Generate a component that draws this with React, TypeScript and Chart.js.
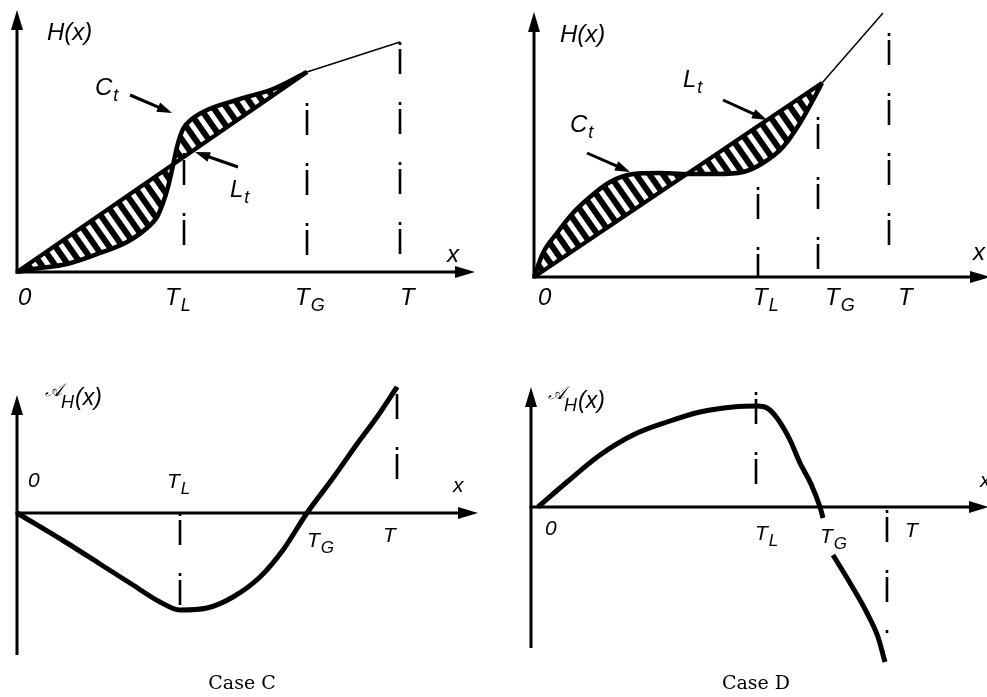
import React, { useEffect, useRef } from 'react';
import { Chart, registerables } from 'chart.js';
Chart.register(...registerables);

// ---------- Case C : H(x) ----------
const cH_TL = 16.7;
const cH_TG = 29.0;
const cH_T = 38.3;
const cH_Ct_x = [0, 1.6, 5.0, 8.3, 11.0, 13.0, 14.0, 14.6, 15.1, 15.5, 16.0, 16.6, 17.5, 19.0, 22.3, 25.6, 29.0];
const cH_Ct_y = [0, 0.3, 0.8, 1.9, 3.0, 4.4, 5.5, 6.9, 8.5, 10.2, 12.5, 14.3, 15.3, 16.2, 17.3, 18.3, 20.0];
const cH_Lt_x = [0, 29.0];
const cH_Lt_y = [0, 20.0];
const cH_tail_x = [29.0, 38.3];
const cH_tail_y = [20.0, 23.0];
const cH_guide_top = [11.9, 16.9, 23.0];
const cH_guide_bot = [0, 1.5, 0];

// ---------- Case D : H(x) ----------
const dH_TL = 22.4;
const dH_TG = 28.4;
const dH_T = 35.5;
const dH_Ct_x = [0, 0.9, 2.3, 3.9, 5.6, 7.6, 9.9, 12.6, 15.3, 18.3, 20.9, 22.9, 24.9, 26.6, 27.9, 28.8];
const dH_Ct_y = [0, 2.4, 4.4, 6.4, 8.0, 9.5, 10.3, 10.4, 10.3, 10.3, 10.5, 11.4, 13.0, 15.4, 17.7, 19.4];
const dH_Lt_x = [0, 28.8];
const dH_Lt_y = [0, 19.4];
const dH_tail_x = [28.8, 34.9];
const dH_tail_y = [19.4, 26.4];
const dH_guide_top = [9.0, 16.0, 24.4];
const dH_guide_bot = [0, 0.4, 3.0];

// ---------- Case C : A_H(x) ----------
const cA_TL = 16.3;
const cA_TG = 29.0;
const cA_T = 38.0;
const cA_x = [0, 5.0, 8.3, 11.6, 14.3, 16.3, 19.0, 21.6, 24.3, 26.6, 29.0, 31.6, 34.0, 36.0, 38.0];
const cA_y = [0, -3.0, -5.1, -7.2, -8.9, -9.7, -9.5, -8.4, -6.4, -3.7, 0, 3.5, 6.9, 9.6, 12.6];
const cA_guide_x = [cA_TL, cA_T];
const cA_guide_top = [0, 12.6];
const cA_guide_bot = [-11.9, 0.6];

// ---------- Case D : A_H(x) ----------
const dA_TL = 22.5;
const dA_TG = 28.7;
const dA_T = 35.6;
const dA_x = [0.7, 3.6, 6.9, 10.2, 13.6, 16.9, 20.2, 22.6, 23.6, 24.6, 25.9, 26.9, 28.0, 28.9, 29.2, 29.7, 30.2, 31.9, 33.6, 34.7, 35.4];
const dA_y = [0, 2.5, 5.2, 7.2, 8.5, 9.5, 10.0, 10.1, 9.9, 8.9, 6.7, 4.4, 2.3, 0, -1.1, null, -4.8, -7.6, -10.6, -13.0, -15.5];
const dA_guide_x = [dA_TL, dA_T];
const dA_guide_top = [11.5, -0.3];
const dA_guide_bot = [0, -12.6];

const W = 987;
const H = 697;
const UNIT = 10;
// panel origins on the page
const ORIGINS: Record<string, [number, number]> = {
  a: [17, 272],
  b: [534, 277],
  c: [17, 513],
  d: [531, 507],
};

const SANS = '"Liberation Sans", Arial, sans-serif';

const pts = (xs: number[], ys: (number | null)[]) => xs.map((x, i) => ({ x, y: ys[i] }));

function line(p: string, xs: number[], ys: (number | null)[], width: number, extra: any = {}) {
  return {
    data: pts(xs, ys),
    xAxisID: 'x' + p,
    yAxisID: 'y' + p,
    borderColor: '#000',
    backgroundColor: '#000',
    borderWidth: width,
    pointRadius: 0,
    fill: false,
    tension: 0,
    ...extra,
  };
}

const DASH = [3, 4, 25, 28];
function guides(p: string, xs: number[], tops: number[], bots: number[]) {
  return xs.map((x, i) =>
    line(p, [x, x], [tops[i], bots[i]], 2.6, { borderDash: DASH, borderCapStyle: 'butt' })
  );
}

function arrowLine(ctx: CanvasRenderingContext2D, x0: number, y0: number, x1: number, y1: number, lw: number, hl: number, hw: number) {
  const ang = Math.atan2(y1 - y0, x1 - x0);
  const bx = x1 - Math.cos(ang) * hl;
  const by = y1 - Math.sin(ang) * hl;
  ctx.save();
  ctx.lineWidth = lw;
  ctx.strokeStyle = '#000';
  ctx.fillStyle = '#000';
  ctx.lineCap = 'butt';
  ctx.beginPath();
  ctx.moveTo(x0, y0);
  ctx.lineTo(bx + Math.cos(ang) * 2, by + Math.sin(ang) * 2);
  ctx.stroke();
  ctx.beginPath();
  ctx.moveTo(x1, y1);
  ctx.lineTo(bx - Math.sin(ang) * hw, by + Math.cos(ang) * hw);
  ctx.lineTo(bx + Math.sin(ang) * hw, by - Math.cos(ang) * hw);
  ctx.closePath();
  ctx.fill();
  ctx.restore();
}

function subText(ctx: CanvasRenderingContext2D, x: number, y: number, main: string, sub: string, size: number, subSize: number, dy: number) {
  ctx.font = `italic ${size}px ${SANS}`;
  ctx.fillText(main, x, y);
  if (sub) {
    const w = ctx.measureText(main).width;
    ctx.font = `italic ${subSize}px ${SANS}`;
    ctx.fillText(sub, x + w + 1, y + dy);
  }
}

const overlay = {
  id: 'overlay',
  beforeDatasetsDraw(chart: any) {
    const ctx: CanvasRenderingContext2D = chart.ctx;
    const P = (p: string, x: number, y: number): [number, number] => [
      chart.scales['x' + p].getPixelForValue(x),
      chart.scales['y' + p].getPixelForValue(y),
    ];
    // axes: [panel, yBottom, yTip, xTip]
    const axes: [string, number, number, number][] = [
      ['a', 0, 26.2, 45.8],
      ['b', 0, 26.5, 45.6],
      ['c', -14.2, 11.8, 46.1],
      ['d', -14.1, 12.0, 45.8],
    ];
    for (const [p, yb, yt, xt] of axes) {
      const [ox, oy] = P(p, 0, 0);
      const [, ybp] = P(p, 0, yb);
      const [, ytp] = P(p, 0, yt);
      const [xtp] = P(p, xt, 0);
      ctx.save();
      ctx.strokeStyle = '#000';
      ctx.lineWidth = 3;
      ctx.beginPath();
      ctx.moveTo(ox, ybp + (yb === 0 ? 1.5 : 0));
      ctx.lineTo(ox, ytp + 15);
      ctx.stroke();
      ctx.beginPath();
      ctx.moveTo(ox - 1.5, oy);
      ctx.lineTo(xtp - 15, oy);
      ctx.stroke();
      ctx.restore();
      arrowLine(ctx, ox, ytp + 16, ox, ytp, 3, 20, 6);
      arrowLine(ctx, xtp - 16, oy, xtp, oy, 3, 20, 6);
    }
  },
  afterDatasetsDraw(chart: any) {
    const ctx: CanvasRenderingContext2D = chart.ctx;
    const P = (p: string, x: number, y: number): [number, number] => [
      chart.scales['x' + p].getPixelForValue(x),
      chart.scales['y' + p].getPixelForValue(y),
    ];
    ctx.save();
    ctx.fillStyle = '#000';
    ctx.textBaseline = 'alphabetic';
    ctx.textAlign = 'left';

    // label arrows (C_t, L_t)
    const arrows: [string, number, number, number, number][] = [
      ['a', 11.3, 17.7, 15.5, 15.9],
      ['a', 22.1, 10.5, 17.8, 12.0],
      ['b', 5.3, 12.4, 9.6, 10.5],
      ['b', 18.9, 17.7, 23.3, 15.7],
    ];
    for (const [p, x0, y0, x1, y1] of arrows) {
      const a = P(p, x0, y0);
      const b = P(p, x1, y1);
      arrowLine(ctx, a[0], a[1], b[0], b[1], 3, 15, 5);
    }

    // top panels' labels: [panel, x, y, main, sub]
    const big = 24;
    const topLabels: [string, number, number, string, string][] = [
      ['a', 3.0, 23.2, 'H(x)', ''],
      ['a', 7.8, 17.7, 'C', 't'],
      ['a', 21.3, 7.5, 'L', 't'],
      ['a', 43.0, 1.0, 'x', ''],
      ['a', 0.1, -3.3, '0', ''],
      ['a', cH_TL - 1.9, -3.3, 'T', 'L'],
      ['a', cH_TG - 1.2, -3.3, 'T', 'G'],
      ['a', cH_T, -3.3, 'T', ''],
      ['b', 2.6, 23.5, 'H(x)', ''],
      ['b', 3.6, 14.5, 'C', 't'],
      ['b', 14.9, 19.0, 'L', 't'],
      ['b', 43.9, 1.7, 'x', ''],
      ['b', 0.4, -2.8, '0', ''],
      ['b', dH_TL - 0.5, -2.8, 'T', 'L'],
      ['b', dH_TG + 0.7, -2.8, 'T', 'G'],
      ['b', dH_T + 0.9, -2.8, 'T', ''],
    ];
    for (const [p, x, y, m, s] of topLabels) {
      const [px, py] = P(p, x, y);
      subText(ctx, px, py, m, s, big, 18, 6);
    }

    const small = 21;
    const botLabels: [string, number, number, string, string][] = [
      ['c', 1.1, 2.6, '0', ''],
      ['c', cA_TL - 1.3, 2.5, 'T', 'L'],
      ['c', 43.6, 2.1, 'x', ''],
      ['c', cA_TG, -3.4, 'T', 'G'],
      ['c', cA_T - 1.4, -2.9, 'T', ''],
      ['d', 1.4, -2.8, '0', ''],
      ['d', dA_TL - 0.1, -3.3, 'T', 'L'],
      ['d', dA_TG + 0.2, -3.6, 'T', 'G'],
      ['d', dA_T + 1.8, -3.0, 'T', ''],
      ['d', 44.9, 2.0, 'x', ''],
    ];
    for (const [p, x, y, m, s] of botLabels) {
      const [px, py] = P(p, x, y);
      subText(ctx, px, py, m, s, small, 17, 6);
    }

    // script A_H(x) labels
    const ahLabels: [string, number, number][] = [
      ['c', 2.8, 10.8],
      ['d', 1.7, 9.9],
    ];
    for (const [p, x, y] of ahLabels) {
      const [px, py] = P(p, x, y);
      ctx.font = `italic 18px "DejaVu Serif", serif`;
      ctx.fillText('\u{1D49C}', px, py - 9);
      const wa = ctx.measureText('\u{1D49C}').width;
      ctx.font = `italic 18px ${SANS}`;
      ctx.fillText('H', px + wa - 1, py + 3);
      const wh = ctx.measureText('H').width;
      ctx.font = `italic 23px ${SANS}`;
      ctx.fillText('(x)', px + wa + wh, py);
    }

    // captions
    const captions: [string, number, number, string][] = [
      ['c', 22.5, -17.6, 'Case C'],
      ['d', 22.5, -18.2, 'Case D'],
    ];
    ctx.textAlign = 'center';
    ctx.font = `19px "DejaVu Serif", serif`;
    for (const [p, x, y, t] of captions) {
      const [px, py] = P(p, x, y);
      ctx.fillText(t, px, py);
    }
    ctx.restore();
  },
};

function scalesFor(p: string) {
  const [ox, oy] = ORIGINS[p];
  return {
    ['x' + p]: { type: 'linear', display: false, min: -ox / UNIT, max: (W - ox) / UNIT },
    ['y' + p]: { type: 'linear', display: false, min: -(H - oy) / UNIT, max: oy / UNIT },
  };
}

export default function App() {
  const ref = useRef<HTMLCanvasElement>(null);
  useEffect(() => {
    const canvas = ref.current!;
    const tile = document.createElement('canvas');
    tile.width = 11;
    tile.height = 11;
    const tctx = tile.getContext('2d')!;
    tctx.fillStyle = '#000';
    tctx.fillRect(0, 0, 6, 11);
    const pattern = canvas.getContext('2d')!.createPattern(tile, 'repeat')!;
    pattern.setTransform(new DOMMatrix().rotate(-35));

    const curve = { cubicInterpolationMode: 'monotone' };
    const datasets: any[] = [
      line('a', cH_Ct_x, cH_Ct_y, 4.5, { ...curve, fill: '+1', backgroundColor: pattern }),
      line('a', cH_Lt_x, cH_Lt_y, 4),
      line('a', cH_tail_x, cH_tail_y, 1.5),
      ...guides('a', [cH_TL, cH_TG, cH_T], cH_guide_top, cH_guide_bot),
      line('b', dH_Ct_x, dH_Ct_y, 4.5, { ...curve, fill: '+1', backgroundColor: pattern }),
      line('b', dH_Lt_x, dH_Lt_y, 4),
      line('b', dH_tail_x, dH_tail_y, 1.5),
      ...guides('b', [dH_TL, dH_TG, dH_T], dH_guide_top, dH_guide_bot),
      line('c', cA_x, cA_y, 5, curve),
      ...guides('c', cA_guide_x, cA_guide_top, cA_guide_bot),
      line('d', dA_x, dA_y, 5, curve),
      ...guides('d', dA_guide_x, dA_guide_top, dA_guide_bot),
    ];

    const chart = new Chart(canvas, {
      type: 'line',
      data: { datasets },
      options: {
        animation: false,
        responsive: false,
        devicePixelRatio: 1,
        events: [],
        layout: { padding: 0 },
        plugins: { legend: { display: false }, tooltip: { enabled: false } },
        scales: { ...scalesFor('a'), ...scalesFor('b'), ...scalesFor('c'), ...scalesFor('d') } as any,
      },
      plugins: [overlay],
    } as any);
    return () => chart.destroy();
  }, []);
  return (
    <div style={{ position: 'fixed', left: 0, top: 0, width: W, height: H, background: '#fff' }}>
      <canvas ref={ref} width={W} height={H} style={{ display: 'block' }} />
    </div>
  );
}
